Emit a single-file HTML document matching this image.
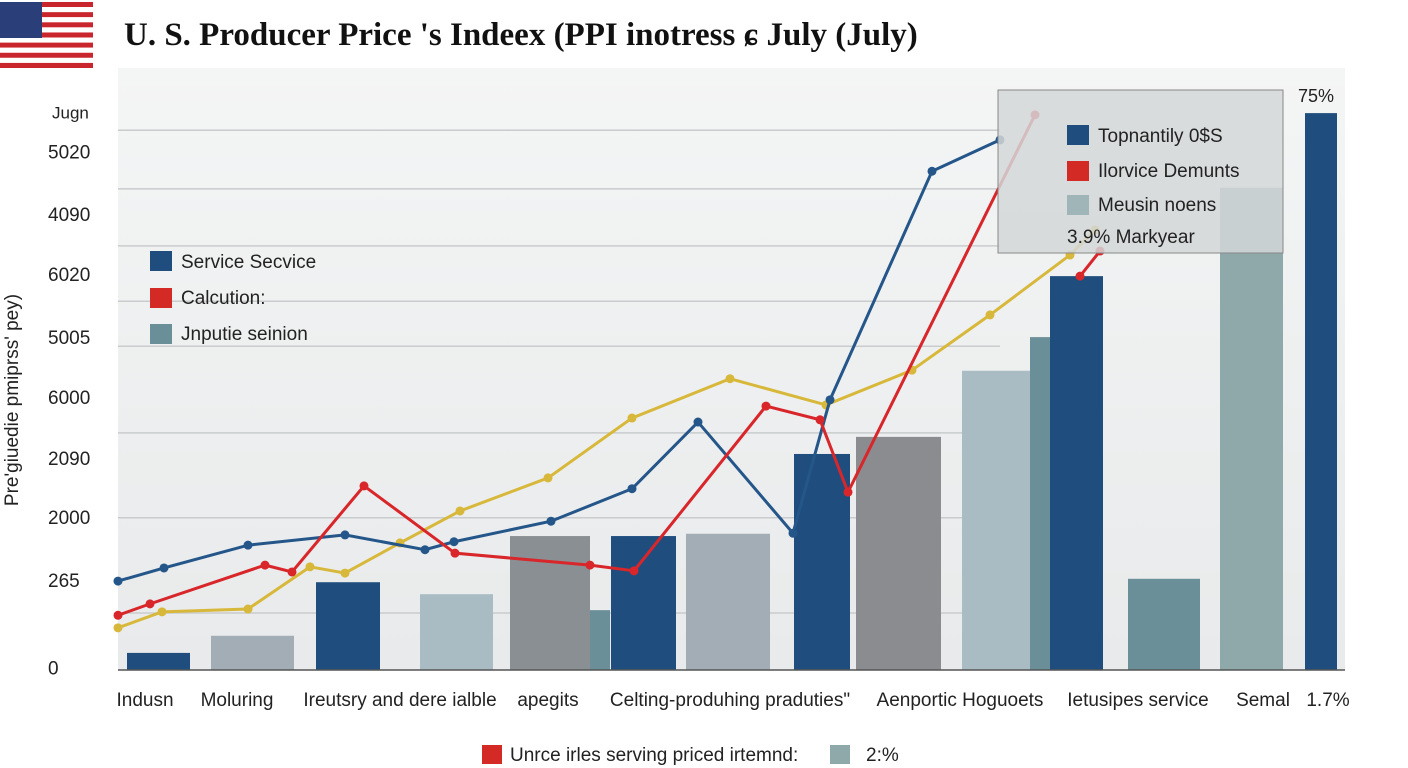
<!DOCTYPE html>
<html><head><meta charset="utf-8">
<style>
body{margin:0;width:1408px;height:768px;background:#fff;overflow:hidden;font-family:"Liberation Sans",sans-serif;}
#c{position:absolute;left:0;top:0;}
</style></head>
<body>
<svg id="c" width="1408" height="768" xmlns="http://www.w3.org/2000/svg">
<defs><linearGradient id="bg" x1="0" y1="0" x2="0" y2="1"><stop offset="0" stop-color="#f4f5f5"/><stop offset="1" stop-color="#e8eaeb"/></linearGradient></defs>
<g>
<rect x="0" y="2" width="93" height="66" fill="#fff"/>
<g id="stripes"></g>
<rect x="0" y="2" width="42" height="36" fill="#2a3f7a"/>
</g>
<text x="124" y="45" font-family="'Liberation Serif',serif" font-weight="bold" font-size="33" fill="#111">U. S. Producer Price 's Indeex (PPI inotress ɕ July (July)</text>
<rect x="118" y="68" width="1227" height="602" fill="url(#bg)"/>
<g id="grid"></g>
<g id="bars"></g>
<g id="lines"></g>
<line x1="118" y1="670" x2="1345" y2="670" stroke="#555" stroke-width="1.5"/>
<g id="ylabels" font-size="19" fill="#222"></g>
<g id="xlabels" font-size="19" fill="#222"></g>
<text transform="translate(18,400) rotate(-90)" text-anchor="middle" font-size="19" fill="#222">Pre'giuedie pmiprss' pey)</text>
<g font-size="19" fill="#222">
<rect x="150" y="251" width="22" height="20" fill="#1f4e7e"/><text x="181" y="268">Service Secvice</text>
<rect x="150" y="288" width="22" height="20" fill="#d42a26"/><text x="181" y="304">Calcution:</text>
<rect x="150" y="324" width="22" height="20" fill="#6a8f98"/><text x="181" y="340">Jnputie seinion</text>
</g>
<g font-size="19" fill="#222">
<rect x="998" y="90" width="285" height="163" fill="#d4d7d8" fill-opacity="0.85" stroke="#888"/>
<rect x="1067" y="125" width="22" height="20" fill="#1f4e7e"/><text x="1098" y="142">Topnantily 0$S</text>
<rect x="1067" y="161" width="22" height="20" fill="#d42a26"/><text x="1098" y="177">Ilorvice Demunts</text>
<rect x="1067" y="195" width="22" height="20" fill="#9fb5b8"/><text x="1098" y="211">Meusin noens</text>
<text x="1067" y="243">3.9% Markyear</text>
</g>
<text x="1298" y="102" font-size="18" fill="#222">75%</text>
<g font-size="19" fill="#222">
<rect x="482" y="745" width="20" height="19" fill="#d42a26"/><text x="510" y="761">Unrce irles serving priced irtemnd:</text>
<rect x="830" y="745" width="20" height="19" fill="#8fa9ab"/><text x="866" y="761">2:%</text>
</g>
</svg>
<script>
const barX=[9,93,198,302,392,472,493,568,676,738,844,912,932,1010,1102,1187];
const barW=[63,83,64,73,80,20,65,84,56,85,68,20,53,72,63,32];
const barValues=[3.0,6.0,15.4,13.3,23.5,10.5,23.5,23.9,37.9,40.9,52.5,58.4,69.1,16.0,84.6,97.7];
const barColors=["#1f4e7e","#a3adb5","#1f4e7e","#a9bcc4","#8a8f94","#6a8f98","#1f4e7e","#a3adb5","#1f4e7e","#8a8c90","#a9bcc4","#6a8f98","#1f4e7e","#6a8f98","#8fa9ab","#1f4e7e"];
const blueX=[0,46,130,227,307,336,433,514,580,675,712,814,882];
const blueY=[15.6,17.9,21.9,23.7,21.1,22.5,26.1,31.8,43.5,24.0,47.4,87.5,93.0];
const redX=[0,32,147,174,246,337,472,516,648,702,730,917];
const redY=[9.6,11.6,18.4,17.2,32.3,20.5,18.4,17.4,46.3,43.9,31.2,97.4];
const red2X=[962,982];
const red2Y=[69.1,73.5];
const yellowX=[0,44,130,192,227,282,342,430,514,612,708,794,872,952,977];
const yellowY=[7.4,10.2,10.7,18.1,17.0,22.3,27.9,33.7,44.2,51.1,46.5,52.6,62.3,72.8,77.2];
const yTicks=["Jugn","5020","4090","6020","5005","6000","2090","2000","265","0"];
const yTickPos=[98,91,80,69.5,58.4,47.9,37.2,26.8,15.8,0.4];
const xLabels=["Indusn","Moluring","Ireutsry and dere ialble","apegits","Celting-produhing praduties\"","Aenportic Hoguoets","Ietusipes service","Semal","1.7%"];
const xLabelPos=[27,119,282,430,612,842,1020,1145,1210];
const gridVals=[94.7,84.4,74.4,64.7,56.8,41.6,26.7,10.0];
const x=v=>118+v; const y=v=>670-v*5.7;
const NS="http://www.w3.org/2000/svg";
function mk(t,a,p){const e=document.createElementNS(NS,t);for(const k in a)e.setAttribute(k,a[k]);p.appendChild(e);return e;}
const st=document.getElementById('stripes');
for(let i=0;i<13;i++){mk('rect',{x:0,y:2+i*66/13,width:93,height:66/13,fill:i%2?'#fff':'#c8262c'},st);}
const g=document.getElementById('grid');
gridVals.forEach(v=>{const l=mk('line',{x1:118,x2:1000,y1:y(v),y2:y(v),stroke:'#c9cbcd','stroke-width':1.5},g);

});
const bg=document.getElementById('bars');
barValues.forEach((v,i)=>{const r=mk('rect',{x:x(barX[i]),y:y(v),width:barW[i],height:y(0)-y(v),fill:barColors[i]},bg);

});
const lg=document.getElementById('lines');
function line(xs,ys,col,name){const p=mk('polyline',{points:xs.map((a,i)=>x(a)+','+y(ys[i])).join(' '),fill:'none',stroke:col,'stroke-width':3},lg);


xs.forEach((a,i)=>{const c=mk('circle',{cx:x(a),cy:y(ys[i]),r:4.5,fill:col},lg);

});}
line(yellowX,yellowY,'#d8b83a','yellow-line');
line(blueX,blueY,'#24568a','blue-line');
line(redX,redY,'#d8262a','red-line');
line(red2X,red2Y,'#d8262a','red-line-segment');
const yl=document.getElementById('ylabels');
yTicks.forEach((t,i)=>{const e=mk('text',{x:t==='Jugn'?52:48,y:y(yTickPos[i])+7,'font-size':t==='Jugn'?17:19},yl);e.textContent=t;

});
const xl=document.getElementById('xlabels');
xLabels.forEach((t,i)=>{const e=mk('text',{x:x(xLabelPos[i]),y:706,'text-anchor':'middle'},xl);e.textContent=t;

});
</script>
</body></html>
